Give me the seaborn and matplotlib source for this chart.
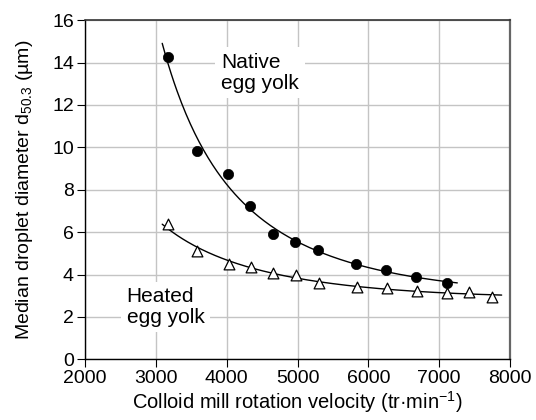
import numpy as np
import pandas as pd
import matplotlib
matplotlib.use("Agg")
import matplotlib.pyplot as plt
import seaborn as sns

# Rotation velocity (tr/min) and median droplet diameter d50.3 (µm)
native_speed = [3167, 3580, 4014, 4334, 4650, 4970, 5285, 5826, 6250, 6673, 7106]
native_d50 = [14.27, 9.84, 8.73, 7.23, 5.9, 5.55, 5.16, 4.48, 4.21, 3.9, 3.61]

heated_speed = [3167, 3588, 4028, 4339, 4659, 4979, 5299, 5835, 6259, 6682, 7115, 7426, 7746]
heated_d50 = [6.37, 5.1, 4.5, 4.37, 4.06, 3.98, 3.61, 3.4, 3.35, 3.24, 3.11, 3.16, 2.95]

# Ranges of the fitted trend curves
native_fit_range = (3090, 7256)
heated_fit_range = (3090, 7882)

x_ticks = [2000, 3000, 4000, 5000, 6000, 7000, 8000]
y_ticks = [0, 2, 4, 6, 8, 10, 12, 14, 16]

sns.set_style("whitegrid")
plt.rcParams["font.family"] = ["Liberation Sans", "DejaVu Sans"]
plt.rcParams["text.color"] = "black"
plt.rcParams["axes.labelcolor"] = "black"
plt.rcParams["mathtext.fontset"] = "custom"
plt.rcParams["mathtext.rm"] = "Liberation Sans"
plt.rcParams["mathtext.it"] = "Liberation Sans:italic"

fig = plt.figure(figsize=(5.36, 4.2), dpi=100)
ax = fig.add_axes([0.1586, 0.1445, 0.7929, 0.8075])


def trend(xs, ys, rng):
    # quadratic fit in log-log space, evaluated over the drawn range
    lx = np.log(np.asarray(xs, float))
    ly = np.log(np.asarray(ys, float))
    coef = np.polyfit(lx, ly, 2)
    xx = np.linspace(rng[0], rng[1], 200)
    return pd.DataFrame({"x": xx, "y": np.exp(np.polyval(coef, np.log(xx)))})


nat_curve = trend(native_speed, native_d50, native_fit_range)
hea_curve = trend(heated_speed, heated_d50, heated_fit_range)

sns.lineplot(data=nat_curve, x="x", y="y", color="black", lw=1.0, ax=ax, zorder=3)
sns.lineplot(data=hea_curve, x="x", y="y", color="black", lw=1.0, ax=ax, zorder=3)

sns.scatterplot(x=native_speed, y=native_d50, marker="o", s=55, color="black",
                edgecolor="black", linewidth=0.5, ax=ax, zorder=4)
sns.scatterplot(x=heated_speed, y=heated_d50, marker="^", s=60, facecolor="white",
                edgecolor="black", linewidth=0.9, ax=ax, zorder=4)

ax.set_xlim(2000, 8000)
ax.set_ylim(0, 16)
ax.set_xticks(x_ticks)
ax.set_yticks(y_ticks)
ax.grid(True, color="#c4c4c4", lw=1.0)
ax.set_axisbelow(True)

for side in ["left", "bottom"]:
    ax.spines[side].set_color("black")
    ax.spines[side].set_linewidth(1.0)
ax.spines["top"].set_color("#333333")
ax.spines["top"].set_linewidth(1.2)
ax.spines["right"].set_color("#666666")
ax.spines["right"].set_linewidth(1.6)

ax.tick_params(axis="both", which="major", direction="out", length=6, width=0.8,
               color="black", labelsize=14, labelcolor="black", pad=2,
               left=True, bottom=True)

ax.set_xlabel("Colloid mill rotation velocity (tr·min$^{-1}$)", fontsize=14.5, labelpad=1)
ax.set_ylabel("Median droplet diameter d$_{50.3}$ (µm)", fontsize=14, labelpad=12)

box = dict(facecolor="white", edgecolor="none", pad=4)
ax.text(3920, 14.45, "Native\negg yolk", fontsize=15, ha="left", va="top",
        linespacing=1.1, bbox=box, zorder=2)
ax.text(2588, 3.4, "Heated\negg yolk", fontsize=15, ha="left", va="top",
        linespacing=1.1, bbox=box, zorder=2)

fig.savefig("out.png", dpi=100)
